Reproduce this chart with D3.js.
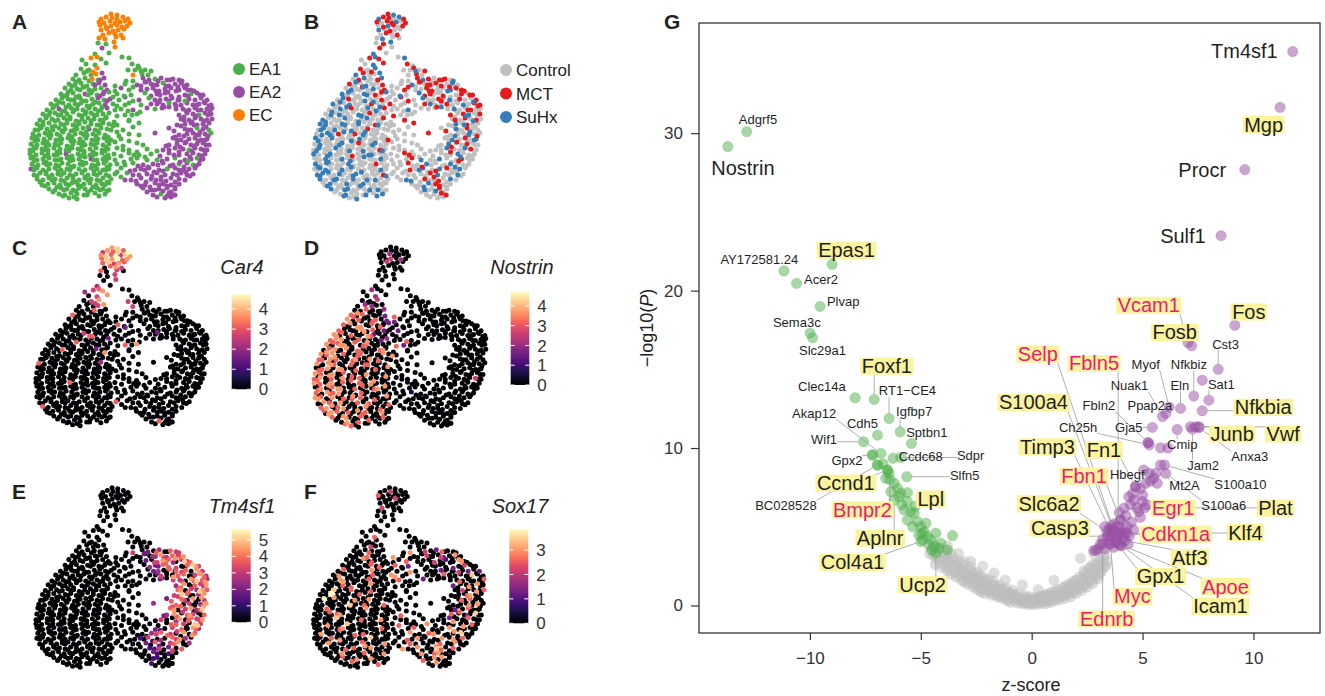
<!DOCTYPE html>
<html>
<head>
<meta charset="utf-8">
<script src="https://cdn.jsdelivr.net/npm/d3@7"></script>
<style>
  body { margin: 0; background: #fff; }
  svg { font-family: "Liberation Sans", Arial, Helvetica, sans-serif; }
</style>
</head>
<body>
<svg id="fig" width="1325" height="696"></svg>
<script>
// ---------------------------------------------------------------------------
// UMAP cells: [rowY, "x x+dy x-dy ..."]
// ---------------------------------------------------------------------------
var umapRows = [
  [1, "82 88+1"],
  [5, "72+1 77-1 83 88+1 94-1 99+1"],
  [9, "70 75+1 81-1 86+1 91 96-1 101+1"],
  [13, "71-1 77+1 82 88-1 93+1 98"],
  [17, "72 78-1 84+1 89 95-1"],
  [21, "74+1 80-1 86 92+1"],
  [25, "70 76+1 87-1 94"],
  [30, "69 77+1 85-1"],
  [35, "73 86-1"],
  [45, "53+2 62 68-1 72+1 93-1 100"],
  [51, "57 66+1 77-1 103 109+2"],
  [56, "52 60+1 68-1 99+1 110-1 116+1 122+2"],
  [61, "47+1 55-1 62+1 67 73-1 104+1 113 119+1"],
  [66, "44 50+1 56-1 63 69+1 75-1 104+2 114-1 120+1 126 132-1 138+1 144 150+1"],
  [71, "40 46+1 52-1 58+2 64 70-1 76+1 96 108+1 116-2 122 128+1 134-1 140+2 146 152-1 158+1"],
  [76, "36-1 42+1 48 54-2 60+1 66 72-1 78+1 92-1 100+1 118 124-1 130+2 136 142-1 150+1 156-1 162+1"],
  [81, "32 38+1 44-1 50+2 56 62-1 68+1 74 80-2 88 102+1 116-1 122+2 128 136-1 156+1 162 168-1 174+1"],
  [86, "27+1 33-1 39 45+1 51-1 57+2 63 69-1 75+1 81 96-2 110+1 120-1 126+1 160 166+1 172-1 178+1"],
  [91, "22 28+1 34-1 40+1 46 52-1 58+2 64 70-1 76+1 84 100-1 112+1 122 158-1 164+1 170 176-1 182+1"],
  [96, "18+1 24-1 30 36+2 42-1 48 54+1 60-1 66 72+1 78-1 92 104+1 118-1 154 160+1 166-1 172+1 178 183-1"],
  [101, "14 20+1 26-1 32+1 38 44-2 50+1 56 62-1 68+1 74 80-1 96+1 108 150+1 158-1 164 170+1 176-1 182"],
  [106, "11+1 17-1 23 29+1 35-1 41 47+2 53 59-1 65 71+1 77-1 100+1 152 160+1 166-1 172 178+1 183"],
  [111, "8 14+1 20-1 26+2 32 38-1 44+1 50 56-2 62 68+1 74-1 80 88+1 110-1 148+1 156 162-1 168+1 174 180-1"],
  [116, "6+1 12-1 18 24+1 30-1 36 42+2 48 54-1 60 66+1 72-1 78 94+1 140-1 156 162+1 168-1 174 180+1"],
  [121, "4 10+1 16-1 22+1 28 34-2 40+1 46 52-1 58+1 64 70-1 76+1 100 126-1 150+1 158 164-1 170+1 176 182-1"],
  [126, "3-1 9+1 15 21-1 27+1 33 39-1 45+2 51 57-1 63+1 69 75-1 82+1 92 144-1 152+1 160 166-1 172+1 178"],
  [131, "2 8+1 14-1 20+1 26 32-1 38+2 44 50-1 56+1 62 68-1 74+1 80 108-1 140+1 148 156-1 162+1 168 174-1 180+1"],
  [136, "1+1 7-1 13 19+1 25-1 31 37+1 43-1 49 55+2 61 67-1 73+1 79 88-1 100+1 118 134+1 146-1 154 160+1 166-1 172 178+1"],
  [141, "1 7+1 13-1 19 25+1 31-1 37 43+2 49 55-1 61+1 67 73-1 79+1 85 100-1 110+1 122 140-1 150+1 158 164-1 170+1 176"],
  [146, "2-1 8+1 14 20-1 26+1 32 38-1 44+1 50 56-2 62 68+1 74 80-1 86+1 102 108-1 128+1 138 146-1 156+1 162 168-1 174"],
  [151, "3 9+1 15-1 21 27+1 33-1 39 45+2 51 57-1 63+1 69 75-1 81+1 88 104-1 114+1 124 134-1 144+1 150 158-1 164+1 170"],
  [156, "2 8-1 14+1 20 26-1 32+1 38 44-2 50 56+1 62-1 68 74+1 80 92-1 106+1 112 120-1 130+1 138 146-1 154+1 160 166-1"],
  [161, "5+1 11-1 17 23+1 29 35-1 41+1 47 53-1 59+1 65 71-1 77+1 86 98-1 110+1 118 128-1 136+1 144 152-1 158+1 164"],
  [166, "8 14+1 20-1 26 32+1 38-1 44 50+1 56-1 62 68+1 74-1 82 102+1 112-1 122 132+1 142-1 150 156+1"],
  [171, "13+1 19 25-1 31+1 37 43-1 49+1 55 61-1 67+1 73 80-1 108 116+1 126-1 134 142+1 150"],
  [176, "20 26+1 32-1 38 44+1 50-1 56 62+1 68-1 74 80+1 114-1 122+1 130 138-1 146"],
  [181, "30 36+1 42-1 48 58+1 66-1 76 124+1 132 140-1 146+1"],
  [185, "40 48+1 136 142-1"],
  // in-between rows
  [40, "66+1 80"],
  [58, "58 64+1 106-1 112"],
  [68, "47+1 60 71-1 97 117+1 129 141-1 153"],
  [73, "43 55+1 66-1 86 104+1 112 125-1 137 149+1 155"],
  [78, "39+1 51-1 63 75+1 86 112-1 127 139+1 147 159-1 165"],
  [83, "35 47+1 59-1 71 84+1 95 131-1 142 150+1 159 171-1"],
  [88, "30+1 42-1 54 66+1 78 90-1 104 130+1 140 150-1 156 175+1"],
  [93, "25 37+1 49-1 61 73+1 88 96-1 135+1 147 168-1 180"],
  [98, "21+1 33 45-1 57+1 69 86-1 99 111+1 157 169-1 181"],
  [103, "17 29-1 41+1 53 65-1 77+1 88 103-1 155+1 167 179-1"],
  [108, "14+1 26 38-1 50+1 62 74-1 85+1 100 155-1 163+1 175"],
  [113, "11 23+1 35-1 47 59+1 71-1 84 104+1 152 165-1 177+1"],
  [118, "9-1 21+1 33 45-1 57+1 69 82-1 88+1 145 159-1 171+1"],
  [123, "7+1 19-1 31 43+1 55-1 67 79+1 90 110-1 146+1 155 167-1 179"],
  [128, "6 18+1 30-1 42 54+1 66-1 78 86+1 100 148-1 157+1 169 176-1"],
  [133, "5+1 17 29-1 41+1 53 65-1 77+1 94 114-1 137 151+1 165 177-1"],
  [138, "4 16-1 28+1 40 52-1 64+1 76 94-1 108+1 128 140-1 150+1 163 175-1"],
  [143, "4+1 16 28-1 40+1 52 64-1 76+1 92 105-1 116+1 131 145-1 161+1 173"],
  [148, "5 17+1 29-1 41 53+1 65-1 77 95+1 118-1 133 151+1 159 171-1"],
  [153, "6+1 18-1 30 42+1 54-1 66 78+1 96-1 109 119+1 129-1 141 155+1 167"],
  [158, "5-1 17+1 29 41-1 53+1 65 77-1 88+1 101 116-1 125+1 134 150-1 157+1"],
  [163, "8 20+1 32-1 44 56+1 68-1 80 92+1 104-1 123 132+1 148-1 161"],
  [168, "11+1 23-1 35 47+1 59-1 71 78+1 96-1 107 117+1 127-1 137 146+1"],
  [173, "16 28+1 40-1 52 64+1 76-1 112 121+1 130-1 138 146+1"],
  [178, "24+1 35-1 47 59+1 71-1 78 118+1 126-1 134 142+1"],
  [183, "34 45+1 55-1 70 128+1 138 145-1"],
  // inner edge of the EA2 ring
  [86, "131+1 137 143-1 149+1"],
  [91, "128 134+1 140-1 146 152+1"],
  [95, "126+1 133 140-1 147+1"]
];

// cluster per cell (G = EA1, P = EA2, O = EC), same row order
var clusterRows = [
  "OO", "OOOOOO", "OOOOOOO", "OOOOOO", "OOOOO", "OOOO", "OOOO", "GGO", "PO",
  "GOOGGG", "GGGGG", "GGOGGGG", "GGGOPOGG",
  "GGGOGPGPPGPPPP",
  "GGGGGPPGPPPPGPPPP",
  "GGGGGGGPPGPPPPPPPP",
  "GGGGPGGPGGGGPPPPGPP",
  "GGGGGGGPGPPPGPPPPP",
  "GGGGGGGGGPGGGPPPPPP",
  "GGPGGGGGGGPGPPPPPPPP",
  "GGGGGGGGGGGGGGPPPGPP",
  "GGGGGGGGGGGGGPPPPPP",
  "GGGGGGGGGGGGGGGPPPPPP",
  "GGGGGGGGGPGGGGPPPGPG",
  "GGGGGGGGGGGGGGPPPPPPG",
  "GGGGGGGGGGGGGGGPPPPPP",
  "GGGGGGGGGGGGGGGPPPPPPP",
  "GGGGGGGGGGGGGGGGGPPPGPPP",
  "GGGGGGPGGGGGGGGGGGPPPPPP",
  "GGGGGGGGGGPGGGGGGGPGPPGP",
  "GGGGGGGGGGGGGGGGPPPPGPGP",
  "PGGGGGGGGGGGGGGPPPPGPPPP",
  "GGGGGGGGGGGGGGGPPPPPPPP",
  "GGGGGGGGGGGGGPPPPPPP",
  "GGGGGGGGGGGGPPPPPP",
  "GGGGGGGGGGGPPPPP",
  "GGGGGGGPGPP",
  "GGPP",
  "GG", "GOGG", "GGPGPPPP", "GGPGGPPPPP", "GGGPGPPPPPP", "GGGPGGPPPPP", "GGGGPGGPPPGP",
  "GGGGGGGPPPP", "GGGGGGGGPPP", "GGGGGGGGPPP", "GGGGGGGGPPP", "GGGGGGGGPPP", "GGGGGGGGPPP",
  "GGGGGGGGGPPPP", "GGGGGGGGGPPPP", "GGGGGGGGGPPPP", "GGGGGGGGGGPPPP", "GGGGGGGGGGPPPP",
  "GGGGGGGGGPPGP", "GGGGGGGGPPPPPP", "GGGGGGGGPPPPPP", "GGGGGGGGPPPPP", "GGGGGGGPPPPPP",
  "GGGGGGPPPPP", "GGGGGGPPPP", "GGGGPPP",
  "PPPP", "PPGPP", "GPPP"
];

// condition per cell (C = Control, M = MCT, S = SuHx)
var conditionRows = [
  "MS", "SMMCSM", "MCMMSCM", "CMSMCM", "SCMCC", "CMCM", "CSCC", "CMS", "MC",
  "CMSMCS", "CSMMC", "MCSCMCM", "SMCCSCMC",
  "CMSCCSCMSMCMMC",
  "MCCSCCMCSMCMMMCSC",
  "CSCMCSCMCMCMMCCSMM",
  "SCCCSCMCSCCSMMCCMCM",
  "CSMCCSCCMCMCSCMCCM",
  "SCCSCCCMCCMCCMCSCMM",
  "CCSCMCCSCCMCSCSCCMCC",
  "CSCCCCSCMCCCCCMCMSCM",
  "SCCCSCCCSCCMMCCMCMC",
  "SSCCSCCSCCMCCCMCSCMCC",
  "CSCSCCSCCMCCCCCSCMCC",
  "CSSCMSCMCCCCCCMCCCSCC",
  "SCCSCCCCSCCCCMCCSCMCS",
  "CSCCCSCCMCCSCCCCSCCMCC",
  "CSCCSCCCCSCCMCCCCCSCCSMC",
  "SCCSCCCMCCSCCCCMCCCCSCCC",
  "CCSCCSCCCSCCSCCCMCSCCMCC",
  "SCSCCCSCCCCMCCCMCSCCSCCC",
  "CSSCCSCCCCCCSCCMCSCSMCSC",
  "SSCCSCCSCCCCMCCCCMSCCSC",
  "SCCSCCSCCCSCCSCMCCSC",
  "CSCCSCCSCCCCCCSMCC",
  "SCCSCCCSCCCCSCMC",
  "CSCCSCSCCMC",
  "CSCC",
  "SC", "CMCS", "SCMCMCMS", "CSCCMCMCMC", "SCCMCCMCSCM", "CCSCCSCMCCM", "SCCSCCMCMCCS",
  "CSCCSCCMCCM", "SCCCSCCCCMC", "CSCSCCMCCSC", "SCCSCCCCMCS", "CCSCCSCCCSC", "SCCCSCCCMCS",
  "CSCCSCCCCCSCM", "SCCSCCCCCCMCS", "CCSCCSCCCCMCC", "SCCSCCSCCCCMCC", "CSCCCSCCMCCCSC",
  "CSCSCCCCSCCMC", "SCCSCCCCCMCCSC", "CSCCSCCCCSCMCC", "SCCSCCSCCCMCC", "CSCCSCCCSCCMC",
  "SCCSCCCSCMC", "CSCCSCCCSC", "SCCSCCM",
  "CMCS", "SCCMC", "CCSC"
];

// expression levels per cell, digit d = d/9 of the gene's top value (missing = 0)
var car4Rows = [
  "78", "576869", "7869587", "687967", "68576", "0675", "6050", "005", "05",
  "4567", "0570", "0575", "00057500",
  "0006", "6", "0", "0000000006", "00000000003", "00000560", "00000000003",
  "00000600000067", "0006000003", "000000000007", "0", "600000000004",
  "0", "0", "0", "0000006", "0", "0", "0", "00000000000006", "6", "0", "0",
  "000000006", "0",
  "40", "0500", "0", "0", "0", "0", "00000003", "00060", "0", "0", "0", "0", "0",
  "0", "0", "0", "0", "0", "0", "0", "0", "0", "0", "0", "0", "0",
  "0", "0", "0"
];

var nostrinRows = [
  "00", "000000", "0040", "005040", "05", "0", "0", "0", "0",
  "04", "04", "005", "0440",
  "00600400", "606000300", "706006030", "6007060030", "6000706030",
  "7006007300", "67700600034", "7067060600003", "067070600060",
  "76706006000700", "6076006007000", "70760060060000", "06707006000000",
  "7607060007000", "670607006000000000000050", "760706006070000000000000",
  "070670060007000000000000", "607670006000000100000000", "760706006000000000000000",
  "07607006060000000000000", "6706700060000000", "07606006007000", "6070060006",
  "07060000", "60",
  "0", "0", "700", "6006", "70603", "0706", "607003", "70060", "6007006", "0706006",
  "70060700", "0706007", "6007060", "07006070", "60700600", "07060070", "6006070",
  "0700607", "6070060", "0607007", "7006060", "0700706", "600706", "70060", "0706", "600",
  "0", "0", "0"
];

var tm4sf1Rows = [
  "0", "0", "0", "0", "0", "0", "0", "0", "0",
  "0", "0", "0", "0",
  "00000050304065", "00000000030474657", "000000000030576045", "0000000000004360685",
  "000000000000036075", "0000000000000060574", "00000000000000507864",
  "00000000000000470657", "0000000000000605476", "000000000000000586047",
  "00000000000000360705", "000000000000004605047", "000000000000000605748",
  "0000000000000004706506", "000000000000000005070657", "000000000000000000065085",
  "000000000000000003056074", "000000000000000004650706", "000000000000000025006740",
  "00000000000000003605704", "00000000000000025306", "000000000000003020",
  "0000000000000200", "00000002000", "0",
  "0", "0", "00000605", "0000004576", "00000056486", "00000036507", "000000030657",
  "00000004706", "00000000567", "00000000605", "00000000768", "00000000507",
  "00000000650", "0000000005607", "0000000007506", "0000000003670", "00000000000465",
  "00000000000608", "0000000002506", "00000000005607", "00000000002450",
  "0000000000360", "0000000000205", "00000000200", "0000000200", "0",
  "4060", "05006", "0305"
];

var sox17Rows = [
  "00", "005", "6", "000500", "0", "5", "0", "0", "0",
  "0", "06", "0", "005",
  "00000070503600", "00060000005003070", "000700000600502070", "0000060006300000500",
  "060000700000000303", "0700000600700000800", "00700006000603000006",
  "00060000700000300070", "0080060000000050006", "009000060000000000700",
  "09000000070000000600", "000000800000600000070", "006000000700000030600",
  "0000600000000000600080", "000080000000700000300600", "000000800000000007000060",
  "000007000000600060070000", "070000060000000706000800", "000600000080000070070060",
  "00700000600070000060700", "00000060070000708060", "000700060000070700",
  "0060000700000770", "00600000700", "00",
  "0", "0", "06", "0007000500", "00600000070", "00060000300", "000000700050",
  "0000070000", "07000000600", "00600000070", "00006000007", "0700000006",
  "00070000060", "0000600000070", "0600000000600", "0070000600030", "00006000000700",
  "07000006000070", "0060000000700", "00006000007000", "00700000600070",
  "0000700060700", "0060000700060", "00000700600", "0070006000", "0006000",
  "0300", "0060", "0"
];

var clusterNames = ["EA1", "EA2", "EC"];
var conditionNames = ["Control", "MCT", "SuHx"];

// colour-bar tops and tick labels for the four genes
var geneNames = ["Car4", "Nostrin", "Tm4sf1", "Sox17"];
var geneMax = [4.75, 4.72, 5.66, 3.86];
var geneTicks = [[0, 1, 2, 3, 4], [0, 1, 2, 3, 4], [0, 1, 2, 3, 4, 5], [0, 1, 2, 3]];

// ---------------------------------------------------------------------------
// volcano (panel G): [gene, z-score, -log10 P]
// ---------------------------------------------------------------------------
var greenGenes = [
  ["Nostrin", -13.7, 29.15], ["Adgrf5", -12.85, 30.1], ["AY172581.24", -11.17, 21.25],
  ["Acer2", -10.6, 20.46], ["Epas1", -9.0, 21.67], ["Plvap", -9.54, 19.0],
  ["Sema3c", -9.99, 17.3], ["Slc29a1", -9.88, 17.0], ["Clec14a", -7.96, 13.19],
  ["Foxf1", -7.1, 13.09], ["RT1\u2212CE4", -6.43, 11.88], ["Igfbp7", -5.93, 11.03],
  ["Sptbn1", -5.42, 10.3], ["Cdh5", -6.95, 10.82], ["Wif1", -7.58, 10.4],
  ["Akap12", -6.8, 9.66], ["Gpx2", -7.18, 9.56], ["Ccdc68", -6.25, 9.35],
  ["Sdpr", -5.9, 9.4], ["Slfn5", -5.63, 8.18], ["Ccnd1", -6.5, 8.6],
  ["BC028528", -6.95, 8.92], ["Bmpr2", -6.4, 8.0], ["Lpl", -5.6, 7.17],
  ["Aplnr", -6.2, 6.7], ["Col4a1", -5.0, 4.06], ["Ucp2", -4.32, 3.32]
];

var purpleGenes = [
  ["Tm4sf1", 11.77, 35.19], ["Mgp", 11.2, 31.64], ["Procr", 9.61, 27.69],
  ["Sulf1", 8.54, 23.49], ["Fos", 9.16, 17.8], ["Fosb", 7.21, 16.49],
  ["Vcam1", 7.05, 16.7], ["Cst3", 8.41, 15.0], ["Nfkbiz", 7.31, 13.3],
  ["Sat1", 7.99, 13.04], ["Nfkbia", 7.69, 12.37], ["Eln", 6.71, 12.52],
  ["Myof", 6.2, 12.6], ["Nuak1", 5.9, 12.0], ["Ppap2a", 6.05, 12.2],
  ["Gja5", 5.44, 11.31], ["Fbln2", 5.26, 10.34], ["Ch25h", 5.3, 10.2],
  ["Cmip", 6.56, 11.18], ["Junb", 7.16, 11.35], ["Vwf", 7.39, 11.35],
  ["Anxa3", 7.54, 11.3], ["Jam2", 7.25, 11.2], ["Mt2A", 5.81, 8.92],
  ["S100a10", 5.99, 8.92], ["Hbegf", 5.59, 8.4], ["S100a6", 6.04, 8.39],
  ["Fn1", 4.68, 7.55], ["Egr1", 4.99, 6.6], ["Plat", 5.1, 6.2],
  ["Fbn1", 4.01, 5.43], ["S100a4", 3.6, 5.1], ["Timp3", 3.5, 4.9],
  ["Selp", 3.7, 4.8], ["Fbln5", 3.9, 5.0], ["Slc6a2", 3.4, 4.7],
  ["Casp3", 3.45, 4.4], ["Cdkn1a", 4.2, 4.5], ["Klf4", 4.3, 4.6],
  ["Atf3", 4.2, 4.1], ["Gpx1", 3.8, 4.0], ["Apoe", 3.95, 3.9],
  ["Icam1", 4.05, 3.8], ["Myc", 3.55, 3.9], ["Ednrb", 3.2, 3.9]
];

// unlabelled significant genes
var greenOther = [
  [-7.18, 9.56], [-6.95, 8.92], [-6.5, 8.6], [-6.43, 8.39], [-6.58, 8.08], [-6.2, 7.76],
  [-6.05, 7.44], [-6.35, 7.23], [-5.9, 7.13], [-5.98, 6.91], [-5.6, 6.6], [-5.75, 6.07],
  [-5.45, 5.96], [-5.3, 5.86], [-5.6, 5.43], [-5.15, 5.33], [-4.77, 5.22], [-5.0, 5.01],
  [-4.85, 4.69], [-5.08, 4.48], [-4.7, 4.38], [-4.55, 4.17], [-4.32, 4.59], [-4.1, 3.96],
  [-3.8, 3.53], [-3.57, 4.44], [-4.4, 3.74], [-4.18, 3.64], [-4.63, 3.85], [-5.37, 5.01],
  [-4.92, 4.17], [-5.25, 6.3], [-4.95, 4.6], [-4.5, 3.5], [-6.7, 9.0], [-5.85, 6.4]
];

var purpleOther = [
  [7.69, 14.31], [7.54, 11.35], [5.81, 10.02], [6.14, 10.0], [5.24, 10.34],
  [5.66, 7.76], [5.14, 7.76], [4.68, 7.55], [4.91, 7.44], [4.38, 6.91], [4.83, 5.96],
  [4.16, 6.18], [4.01, 5.43], [3.3, 5.0], [3.6, 4.6], [3.9, 4.7], [4.3, 5.0], [4.5, 5.3],
  [4.6, 4.8], [3.2, 4.2], [3.5, 3.9], [3.8, 4.1], [4.1, 4.3], [4.4, 4.4], [3.0, 3.6],
  [3.3, 3.6], [3.7, 3.7], [4.0, 3.8], [2.9, 3.5], [3.4, 4.4], [3.75, 5.2], [4.25, 5.7],
  [4.45, 6.4], [4.6, 6.7], [5.0, 7.0], [5.35, 7.9], [5.5, 8.1], [3.55, 4.2], [3.9, 4.5],
  [4.15, 4.8], [3.1, 3.9], [3.65, 4.9], [4.75, 6.2], [4.9, 5.6], [5.2, 6.4], [4.35, 3.9],
  [2.8, 3.5], [3.95, 5.9], [5.05, 8.6], [5.3, 8.4], [4.55, 7.1], [3.85, 4.3], [4.05, 4.6]
];

var grayGenes = [
  [-4.3, 3.0], [-4.2, 3.4], [-4.1, 2.7], [-4.0, 3.1], [-3.9, 2.5], [-3.85, 3.3], [-3.75, 2.8],
  [-3.7, 2.3], [-3.6, 2.6], [-3.5, 3.0], [-3.45, 2.1], [-3.35, 2.5], [-3.25, 2.2], [-3.2, 1.9],
  [-3.1, 2.6], [-3.0, 2.0], [-2.95, 1.7], [-2.85, 2.3], [-2.8, 1.5], [-2.7, 1.9], [-2.6, 1.4],
  [-2.55, 1.7], [-2.45, 2.1], [-2.4, 1.25], [-2.3, 1.55], [-2.2, 1.1], [-2.15, 1.8], [-2.05, 1.35],
  [-2.0, 0.95], [-1.9, 1.2], [-1.85, 0.8], [-1.75, 1.55], [-1.7, 1.0], [-1.6, 0.7], [-1.5, 0.95],
  [-1.45, 1.3], [-1.4, 0.6], [-1.3, 0.85], [-1.2, 0.5], [-1.15, 1.1], [-1.05, 0.7], [-1.0, 0.4],
  [-0.9, 0.6], [-0.85, 0.95], [-0.75, 0.3], [-0.7, 0.5], [-0.6, 0.75], [-0.5, 0.25], [-0.45, 0.45],
  [-0.35, 0.65], [-0.3, 0.15], [-0.2, 0.35], [-0.1, 0.55], [-0.05, 0.1], [0.05, 0.3], [0.15, 0.5],
  [0.2, 0.12], [0.3, 0.35], [0.4, 0.6], [0.45, 0.18], [0.55, 0.4], [0.65, 0.72], [0.7, 0.25],
  [0.8, 0.5], [0.9, 0.85], [0.95, 0.35], [1.05, 0.6], [1.15, 1.0], [1.2, 0.45], [1.3, 0.75],
  [1.4, 1.15], [1.45, 0.6], [1.55, 0.9], [1.65, 1.35], [1.7, 0.75], [1.8, 1.1], [1.9, 1.55],
  [1.95, 0.95], [2.05, 1.3], [2.15, 1.8], [2.2, 1.1], [2.3, 1.55], [2.4, 2.05], [2.45, 1.35],
  [2.55, 1.8], [2.65, 2.35], [2.7, 1.6], [2.8, 2.1], [2.9, 2.65], [2.95, 1.9], [3.0, 2.4],
  [3.1, 2.9], [3.15, 2.2], [3.2, 2.7], [3.3, 3.2], [3.35, 2.5],
  [-2.75, 2.79], [-1.7, 2.07], [-0.42, 1.31], [2.2, 3.0], [-3.3, 3.3], [-2.2, 2.5],
  [1.0, 1.6], [-1.2, 1.6], [0.3, 1.0], [2.8, 3.3], [-3.8, 3.8], [-4.5, 3.6],
  [-4.45, 3.2], [-4.35, 2.6], [-4.25, 3.6], [-4.15, 3.0], [-4.05, 2.4], [-3.95, 3.5], [-3.95, 2.9],
  [-3.8, 2.2], [-3.8, 3.0], [-3.65, 3.3], [-3.65, 2.0], [-3.55, 2.8], [-3.45, 2.5], [-3.4, 1.8],
  [-3.3, 2.8], [-3.3, 2.0], [-3.15, 1.6], [-3.15, 2.35], [-3.05, 2.8], [-3.05, 1.5], [-2.9, 2.0],
  [-2.9, 1.35], [-2.75, 2.45], [-2.75, 1.75], [-2.65, 1.2], [-2.65, 2.1], [-2.5, 1.6], [-2.5, 1.05],
  [-2.45, 1.85], [-2.35, 0.95], [-2.35, 1.9], [-2.25, 1.35], [-2.25, 0.85], [-2.1, 1.55], [-2.1, 0.75],
  [-1.95, 1.65], [-1.95, 1.05], [-1.8, 0.65], [-1.8, 1.35], [-1.65, 0.9], [-1.65, 1.25], [-1.55, 0.55],
  [-1.55, 1.1], [-1.35, 0.45], [-1.35, 1.05], [-1.25, 0.7], [-1.1, 0.3], [-1.1, 0.85], [-0.95, 0.2],
  [-0.95, 0.75], [-0.8, 0.45], [-0.8, 0.7], [-0.65, 0.15], [-0.65, 0.5], [-0.55, 0.45], [-0.4, 0.1],
  [-0.4, 0.35], [-0.25, 0.5], [-0.15, 0.05], [-0.15, 0.25], [0.0, 0.4], [0.0, 0.15], [0.1, 0.05],
  [0.1, 0.3], [0.25, 0.45], [0.35, 0.1], [0.35, 0.55], [0.5, 0.25], [0.5, 0.5], [0.6, 0.1],
  [0.6, 0.6], [0.75, 0.4], [0.75, 0.7], [0.85, 0.2], [0.85, 0.65], [1.0, 0.3], [1.0, 0.85],
  [1.1, 0.55], [1.25, 0.35], [1.25, 0.95], [1.35, 0.6], [1.5, 0.45], [1.5, 1.2], [1.6, 0.75],
  [1.6, 1.05], [1.75, 0.55], [1.75, 1.3], [1.85, 0.85], [1.85, 1.4], [2.0, 0.75], [2.0, 1.6],
  [2.1, 1.15], [2.25, 0.95], [2.25, 1.7], [2.35, 1.3], [2.35, 2.2], [2.5, 1.15], [2.5, 2.0],
  [2.6, 1.55], [2.6, 2.4], [2.75, 1.4], [2.75, 2.6], [2.85, 1.8], [2.85, 2.35], [3.0, 1.7],
  [3.05, 2.7], [3.1, 2.05], [3.25, 2.45], [3.25, 3.0], [3.4, 2.8], [-4.6, 3.3], [-4.4, 3.9]
];

var xTicks = [-10, -5, 0, 5, 10];
var yTicks = [0, 10, 20, 30];

// label placement (label centre, in data units) as repelled in the figure
var labelPos = {
  "Nostrin": [-13.02, 27.82], "Adgrf5": [-12.34, 30.86], "Epas1": [-8.35, 22.56],
  "AY172581.24": [-12.28, 21.97], "Acer2": [-9.5, 20.7], "Plvap": [-8.5, 19.34],
  "Sema3c": [-10.59, 17.95], "Slc29a1": [-9.43, 16.21], "Foxf1": [-6.53, 15.2],
  "Clec14a": [-9.46, 13.89], "RT1\u2212CE4": [-5.6, 13.63], "Igfbp7": [-5.3, 12.3],
  "Akap12": [-9.81, 12.2], "Cdh5": [-7.63, 11.57], "Sptbn1": [-4.73, 11.0],
  "Wif1": [-9.36, 10.57], "Ccdc68": [-5.0, 9.45], "Sdpr": [-2.75, 9.56],
  "Gpx2": [-8.33, 9.19], "Slfn5": [-3.02, 8.24], "Ccnd1": [-8.38, 7.76],
  "BC028528": [-11.08, 6.34], "Lpl": [-4.55, 6.75], "Bmpr2": [-7.63, 6.07],
  "Aplnr": [-6.83, 4.27], "Col4a1": [-8.08, 2.73], "Ucp2": [-4.92, 1.31],
  "Tm4sf1": [9.59, 35.19], "Mgp": [10.46, 30.55], "Procr": [7.69, 27.69],
  "Sulf1": [6.82, 23.49], "Vcam1": [5.28, 19.07], "Fos": [9.79, 18.64],
  "Fosb": [6.45, 17.34], "Selp": [0.28, 15.96], "Fbln5": [2.81, 15.37],
  "Myof": [5.14, 15.31], "Nfkbiz": [7.09, 15.31], "Cst3": [8.74, 16.6],
  "Nuak1": [4.41, 13.95], "Eln": [6.68, 13.95], "Sat1": [8.55, 14.04],
  "S100a4": [0.08, 12.9], "Fbln2": [3.03, 12.68], "Ppap2a": [5.33, 12.68],
  "Nfkbia": [10.44, 12.58], "Ch25h": [2.09, 11.31], "Gja5": [4.38, 11.31],
  "Junb": [9.04, 10.89], "Vwf": [11.34, 10.89], "Timp3": [0.71, 10.08],
  "Fn1": [3.26, 9.87], "Cmip": [6.79, 10.25], "Anxa3": [9.83, 9.45],
  "Jam2": [7.73, 8.92], "Hbegf": [4.31, 8.33], "Fbn1": [2.36, 8.22],
  "Mt2A": [6.89, 7.65], "S100a10": [9.41, 7.7], "Slc6a2": [0.78, 6.45],
  "Egr1": [6.38, 6.18], "S100a6": [8.66, 6.34], "Plat": [10.99, 6.18],
  "Casp3": [1.27, 4.91], "Cdkn1a": [6.49, 4.53], "Klf4": [9.64, 4.63],
  "Atf3": [7.13, 3.04], "Gpx1": [5.81, 1.84], "Apoe": [8.74, 1.2],
  "Icam1": [8.51, -0.06], "Myc": [4.54, 0.57], "Ednrb": [3.38, -0.86]
};

var smallLabels = ["Adgrf5", "AY172581.24", "Acer2", "Plvap", "Sema3c", "Slc29a1", "Clec14a",
  "RT1\u2212CE4", "Igfbp7", "Akap12", "Cdh5", "Sptbn1", "Wif1", "Ccdc68", "Sdpr", "Gpx2", "Slfn5",
  "BC028528", "Cst3", "Myof", "Nfkbiz", "Nuak1", "Eln", "Sat1", "Fbln2", "Ppap2a", "Ch25h", "Gja5",
  "Cmip", "Anxa3", "Jam2", "Hbegf", "Mt2A", "S100a10", "S100a6"];
var plainLabels = ["Nostrin", "Tm4sf1", "Procr", "Sulf1"];
var pinkLabels = ["Bmpr2", "Vcam1", "Selp", "Fbln5", "Fbn1", "Egr1", "Cdkn1a", "Apoe", "Myc", "Ednrb"];
var noSegment = ["Nostrin", "Adgrf5", "AY172581.24", "Acer2", "Epas1", "Plvap", "Sema3c", "Slc29a1",
  "Clec14a", "Tm4sf1", "Mgp", "Procr", "Sulf1", "Fos", "Cdh5", "Lpl", "Sptbn1"];

// ---------------------------------------------------------------------------
var svg = d3.select("#fig");
var clusterColor = { G: "#4daf4a", P: "#984ea3", O: "#ff7f00" };
var condColor = { C: "#c0c0c0", M: "#e41a1c", S: "#377eb8" };

// flatten the rows into cells
var cells = [];
umapRows.forEach(function (row, i) {
  row[1].trim().split(/\s+/).forEach(function (tok, j) {
    var m = tok.match(/^(\d+)([+-]\d+)?$/);
    var expr = [car4Rows, nostrinRows, tm4sf1Rows, sox17Rows].map(function (rows, g) {
      var d = +((rows[i] || "")[j] || 0);
      return d / 9 * geneMax[g];
    });
    cells.push({
      x: +m[1],
      y: row[0] + (m[2] ? +m[2] : 0),
      cluster: (clusterRows[i] || "")[j] || "G",
      cond: (conditionRows[i] || "")[j] || "C",
      expr: expr
    });
  });
});

function panelLabel(txt, x, y) {
  svg.append("text").attr("x", x).attr("y", y)
    .attr("font-size", 21).attr("font-weight", "bold").attr("fill", "#222")
    .text(txt);
}

function umapScatter(box, data, fill) {
  var x = d3.scaleLinear().domain([0, 184]).range([box[0], box[2]]);
  var y = d3.scaleLinear().domain([0, 187]).range([box[1], box[3]]);
  svg.append("g").selectAll("circle")
    .data(data)
    .join("circle")
    .attr("cx", function (d) { return x(d.x); })
    .attr("cy", function (d) { return y(d.y); })
    .attr("r", 2.5)
    .attr("fill", fill);
}

// A: clusters
panelLabel("A", 12, 29);
var clusterOrder = { G: 0, P: 0, O: 1 };
umapScatter([29, 13, 213, 200],
  cells.slice().sort(function (a, b) { return clusterOrder[a.cluster] - clusterOrder[b.cluster]; }),
  function (d) { return clusterColor[d.cluster]; });
var legA = svg.append("g");
["G", "P", "O"].forEach(function (k, i) {
  legA.append("circle").attr("cx", 239).attr("cy", 69 + i * 23).attr("r", 6).attr("fill", clusterColor[k]);
  legA.append("text").attr("x", 249).attr("y", 69 + i * 23).attr("dy", "0.36em")
    .attr("font-size", 17).attr("fill", "#222").text(clusterNames[i]);
});

// B: conditions
panelLabel("B", 304, 29);
umapScatter([312.7, 13, 481.7, 200],
  cells.slice().sort(function (a, b) { return (a.cond === "C" ? 0 : 1) - (b.cond === "C" ? 0 : 1); }),
  function (d) { return condColor[d.cond]; });
var legB = svg.append("g");
["C", "M", "S"].forEach(function (k, i) {
  legB.append("circle").attr("cx", 506).attr("cy", 70 + i * 23.5).attr("r", 6).attr("fill", condColor[k]);
  legB.append("text").attr("x", 516).attr("y", 70 + i * 23.5).attr("dy", "0.36em")
    .attr("font-size", 17).attr("fill", "#222").text(conditionNames[i]);
});

// C-F: expression, magma palette, high values on top
var featurePanels = [
  { tag: "C", g: 0, box: [35, 246.7, 208, 426.7], bar: [231.7, 294, 250.7, 389.3], titleX: 242, titleY: 274, lab: [12, 255] },
  { tag: "D", g: 1, box: [313.3, 246, 486.7, 428], bar: [510.7, 291.7, 529.3, 385], titleX: 522, titleY: 274, lab: [304, 255] },
  { tag: "E", g: 2, box: [35, 486.7, 208, 668.3], bar: [231.7, 529, 250.7, 622.3], titleX: 242, titleY: 513, lab: [12, 499] },
  { tag: "F", g: 3, box: [312.7, 486.7, 485, 668.3], bar: [509.3, 529, 528.3, 623.3], titleX: 520, titleY: 513, lab: [304, 499] }
];

var defs = svg.append("defs");
var grad = defs.append("linearGradient").attr("id", "magmaBar")
  .attr("x1", 0).attr("y1", 1).attr("x2", 0).attr("y2", 0);
d3.range(0, 1.0001, 0.05).forEach(function (t) {
  grad.append("stop").attr("offset", t).attr("stop-color", d3.interpolateMagma(t));
});

featurePanels.forEach(function (p) {
  var max = geneMax[p.g];
  var col = d3.scaleSequential(d3.interpolateMagma).domain([0, max]);
  panelLabel(p.tag, p.lab[0], p.lab[1]);
  umapScatter(p.box,
    cells.slice().sort(function (a, b) { return a.expr[p.g] - b.expr[p.g]; }),
    function (d) { return col(d.expr[p.g]); });

  svg.append("text").attr("x", p.titleX).attr("y", p.titleY)
    .attr("text-anchor", "middle").attr("font-size", 20).attr("font-style", "italic")
    .attr("fill", "#222").text(geneNames[p.g]);

  var b = p.bar;
  var by = d3.scaleLinear().domain([0, max]).range([b[3], b[1]]);
  svg.append("rect").attr("x", b[0]).attr("y", b[1])
    .attr("width", b[2] - b[0]).attr("height", b[3] - b[1])
    .attr("fill", "url(#magmaBar)");
  var tg = svg.append("g");
  geneTicks[p.g].forEach(function (t) {
    tg.append("line").attr("x1", b[0]).attr("x2", b[0] + 4).attr("y1", by(t)).attr("y2", by(t))
      .attr("stroke", "#fff").attr("stroke-width", 1);
    tg.append("line").attr("x1", b[2] - 4).attr("x2", b[2]).attr("y1", by(t)).attr("y2", by(t))
      .attr("stroke", "#fff").attr("stroke-width", 1);
    tg.append("text").attr("x", b[2] + 8).attr("y", by(t)).attr("dy", "0.36em")
      .attr("font-size", 17).attr("fill", "#333").text(t);
  });
});

// ---------------------------------------------------------------------------
// G: volcano
// ---------------------------------------------------------------------------
panelLabel("G", 664, 29);
var vx = d3.scaleLinear().domain([-15, 13]).range([699, 1320]);
var vy = d3.scaleLinear().domain([-1.75, 37]).range([633, 23]);

var gPts = svg.append("g");
function dots(data, color, getX, getY) {
  gPts.append("g").selectAll("circle")
    .data(data)
    .join("circle")
    .attr("cx", function (d) { return vx(getX(d)); })
    .attr("cy", function (d) { return vy(getY(d)); })
    .attr("r", 5.2)
    .attr("fill", color).attr("fill-opacity", 0.5)
    .attr("stroke", color).attr("stroke-opacity", 0.25).attr("stroke-width", 1);
}
dots(grayGenes, "#bdbdbd", function (d) { return d[0]; }, function (d) { return d[1]; });
dots(greenOther, "#4daf4a", function (d) { return d[0]; }, function (d) { return d[1]; });
dots(greenGenes, "#4daf4a", function (d) { return d[1]; }, function (d) { return d[2]; });
dots(purpleOther, "#984ea3", function (d) { return d[0]; }, function (d) { return d[1]; });
dots(purpleGenes, "#984ea3", function (d) { return d[1]; }, function (d) { return d[2]; });

// axes
svg.append("rect").attr("x", 699).attr("y", 23).attr("width", 621).attr("height", 610)
  .attr("fill", "none").attr("stroke", "#333").attr("stroke-width", 1.3);
var xAxis = svg.append("g").attr("transform", "translate(0,633)")
  .call(d3.axisBottom(vx).tickValues(xTicks).tickSize(7).tickPadding(12)
    .tickFormat(function (d) { return d < 0 ? "\u2212" + Math.abs(d) : d; }));
var yAxis = svg.append("g").attr("transform", "translate(699,0)")
  .call(d3.axisLeft(vy).tickValues(yTicks).tickSize(8).tickPadding(8));
[xAxis, yAxis].forEach(function (a) {
  a.select(".domain").remove();
  a.selectAll("line").attr("stroke", "#333").attr("stroke-width", 1.2);
  a.selectAll("text").attr("font-size", 17).attr("fill", "#333")
    .attr("font-family", "'Liberation Sans', Arial, sans-serif");
});

svg.append("text").attr("x", 1031).attr("y", 691).attr("text-anchor", "middle")
  .attr("font-size", 18).attr("fill", "#222").text("z-score");
var yt = svg.append("text").attr("transform", "translate(653,328) rotate(-90)")
  .attr("text-anchor", "middle").attr("font-size", 18).attr("fill", "#222");
yt.append("tspan").text("\u2212log10(");
yt.append("tspan").attr("font-style", "italic").text("P");
yt.append("tspan").text(")");

// labels with repel segments
var allGenes = greenGenes.concat(purpleGenes);
var segLayer = svg.append("g");
var labLayer = svg.append("g");
allGenes.forEach(function (g) {
  var name = g[0], pos = labelPos[name];
  if (!pos) return;
  var small = smallLabels.indexOf(name) >= 0;
  var fs = small ? 13 : 20;
  var cx = vx(pos[0]), cy = vy(pos[1]);
  var base = cy + 0.35 * fs;
  var t = labLayer.append("text").attr("x", cx).attr("y", base)
    .attr("text-anchor", "middle").attr("font-size", fs)
    .attr("fill", pinkLabels.indexOf(name) >= 0 ? "#ee1a72" : "#1f1f1f")
    .text(name);
  var w = t.node().getComputedTextLength();
  var x0 = cx - w / 2, x1 = cx + w / 2, y0 = base - 0.76 * fs, y1 = base + 0.1 * fs;
  if (!small && plainLabels.indexOf(name) < 0) {
    labLayer.insert("rect", function () { return t.node(); })
      .attr("x", x0 - 1.5).attr("y", base - 0.78 * fs)
      .attr("width", w + 3).attr("height", 0.86 * fs)
      .attr("rx", 1.5).attr("fill", "#fbf39d");
  }
  if (noSegment.indexOf(name) >= 0) return;
  var px = vx(g[1]), py = vy(g[2]);
  var qx = Math.max(x0, Math.min(x1, px)), qy = Math.max(y0, Math.min(y1, py));
  var dist = Math.hypot(px - qx, py - qy);
  if (dist < 9) return;
  var ex = px + (qx - px) * 5 / dist, ey = py + (qy - py) * 5 / dist;
  segLayer.append("line").attr("x1", qx).attr("y1", qy).attr("x2", ex).attr("y2", ey)
    .attr("stroke", "#9a9a9a").attr("stroke-width", 0.8);
});
</script>
</body>
</html>
